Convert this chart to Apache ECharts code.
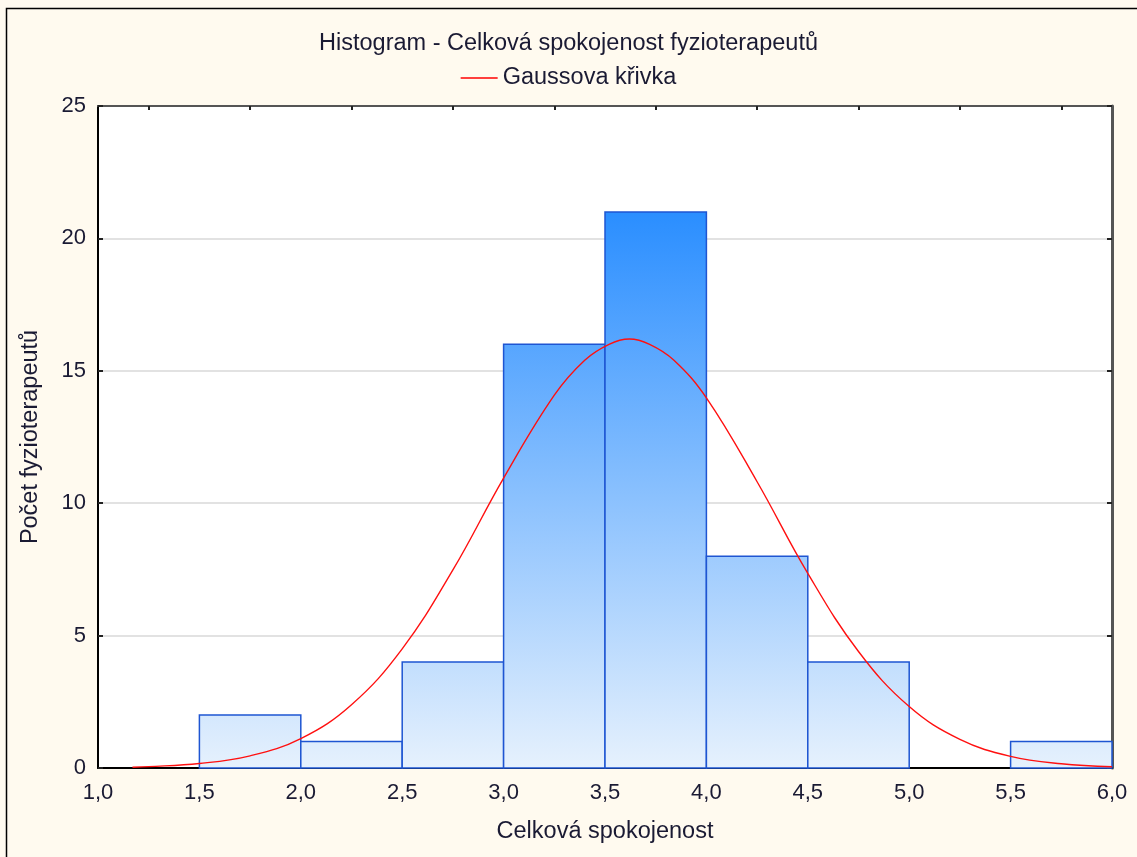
<!DOCTYPE html>
<html><head><meta charset="utf-8">
<script src="https://cdn.jsdelivr.net/npm/echarts@6/dist/echarts.min.js"></script>
<style>html,body{margin:0;padding:0;background:#fffaef;}#c{width:1137px;height:857px;}</style>
</head><body><div id="c"></div>
<script>
const binStart = [1.5, 2.0, 2.5, 3.0, 3.5, 4.0, 4.5, 5.0, 5.5];
const binEnd   = [2.0, 2.5, 3.0, 3.5, 4.0, 4.5, 5.0, 5.5, 6.0];
const counts   = [2, 1, 4, 16, 21, 8, 4, 0, 1];
const curveX = [1.17, 1.25, 1.5, 1.75, 2.0, 2.25, 2.5, 2.75, 3.0, 3.25, 3.4, 3.52, 3.62, 3.72, 3.84, 4.0, 4.25, 4.5, 4.75, 5.0, 5.25, 5.5, 5.75, 6.0];
const curveY = [0.03, 0.05, 0.17, 0.46, 1.11, 2.39, 4.5, 7.48, 10.95, 14.08, 15.4, 16.0, 16.2, 16.0, 15.4, 13.98, 10.81, 7.35, 4.4, 2.32, 1.08, 0.44, 0.16, 0.05];
const xTicks = ['1,0','1,5','2,0','2,5','3,0','3,5','4,0','4,5','5,0','5,5','6,0'];
const topCats = ['1,25','1,75','2,25','2,75','3,25','3,75','4,25','4,75','5,25','5,75'];
const yTicks = [0, 5, 10, 15, 20, 25];
const titleText = 'Histogram - Celková spokojenost fyzioterapeutů';
const legendName = 'Gaussova křivka';

const chart = echarts.init(document.getElementById('c'));
const font = 'Liberation Sans, Arial, sans-serif';
const barFill = new echarts.graphic.LinearGradient(0, 212, 0, 768, [
  {offset: 0, color: '#2a8eff'},
  {offset: 1, color: '#e6f1fd'}
], true);

chart.setOption({
  backgroundColor: '#fffaef',
  animation: false,
  graphic: [{
    type: 'rect', silent: true, z: 100,
    shape: {x: 6.5, y: 8.5, width: 1200, height: 900},
    style: {fill: 'none', stroke: '#000', lineWidth: 1.5}
  }],
  title: {
    text: titleText, left: 'center', top: 27,
    textStyle: {fontFamily: font, fontSize: 23.5, fontWeight: 'normal', color: '#1a1a33'}
  },
  legend: {
    top: 61, left: 'center',
    data: [legendName],
    icon: 'rect', itemWidth: 37, itemHeight: 1.5, itemGap: 12,
    textStyle: {fontFamily: font, fontSize: 23.5, color: '#1a1a33'}
  },
  grid: {left: 98, right: 25, top: 106, bottom: 89, show: true, backgroundColor: '#fff', borderWidth: 0},
  xAxis: [{
    type: 'value', min: 1, max: 6, interval: 0.5,
    position: 'bottom',
    name: 'Celková spokojenost', nameLocation: 'middle', nameGap: 52,
    nameTextStyle: {fontFamily: font, fontSize: 23.5, color: '#1a1a33'},
    axisLine: {show: true, onZero: false, lineStyle: {color: '#000', width: 2}},
    axisTick: {show: false},
    splitLine: {show: false},
    axisLabel: {
      fontFamily: font, fontSize: 22, color: '#1a1a33', margin: 14,
      formatter: function (v) { const i = Math.round((v - 1) / 0.5); return xTicks[i]; }
    }
  }, {
    type: 'category', data: topCats, position: 'top', boundaryGap: true,
    axisLine: {show: true, onZero: false, lineStyle: {color: '#555', width: 2}},
    axisTick: {show: true, alignWithLabel: true, inside: true, length: 4, lineStyle: {color: '#222', width: 2}},
    axisLabel: {show: false},
    splitLine: {show: false}
  }],
  yAxis: [{
    type: 'value', min: 0, max: 25, interval: 5,
    name: 'Počet fyzioterapeutů', nameLocation: 'middle', nameGap: 55,
    nameTextStyle: {fontFamily: font, fontSize: 23.5, color: '#1a1a33'},
    axisLine: {show: true, onZero: false, lineStyle: {color: '#000', width: 2}},
    axisTick: {show: true, inside: true, length: 5, lineStyle: {color: '#222', width: 2}},
    splitLine: {show: true, lineStyle: {color: '#d9d9d9', width: 1.5}},
    axisLabel: {fontFamily: font, fontSize: 22, color: '#1a1a33', margin: 12,
      formatter: function (v) { return yTicks.indexOf(v) >= 0 ? String(v) : ''; }}
  }, {
    type: 'value', min: 0, max: 25, interval: 5, position: 'right',
    axisLine: {show: true, onZero: false, lineStyle: {color: '#555', width: 3}},
    axisTick: {show: true, inside: true, length: 5, lineStyle: {color: '#222', width: 2}},
    axisLabel: {show: false},
    splitLine: {show: false}
  }],
  series: [{
    type: 'custom',
    xAxisIndex: 0, yAxisIndex: 0,
    data: counts.map((c, i) => [binStart[i], binEnd[i], c]),
    renderItem: function (params, api) {
      const h = api.value(2);
      if (!h) return null;
      const p0 = api.coord([api.value(0), h]);
      const p1 = api.coord([api.value(1), 0]);
      return {
        type: 'rect',
        shape: {x: p0[0], y: p0[1], width: p1[0] - p0[0], height: p1[1] - p0[1]},
        style: {fill: barFill, stroke: '#1e55d2', lineWidth: 1.5}
      };
    },
    z: 2
  }, {
    name: legendName,
    type: 'line',
    xAxisIndex: 0, yAxisIndex: 0,
    data: curveX.map((x, i) => [x, curveY[i]]),
    smooth: 0.4,
    symbol: 'none',
    color: '#ff0000',
    lineStyle: {color: '#ff1010', width: 1.4},
    z: 3
  }]
});
</script></body></html>
